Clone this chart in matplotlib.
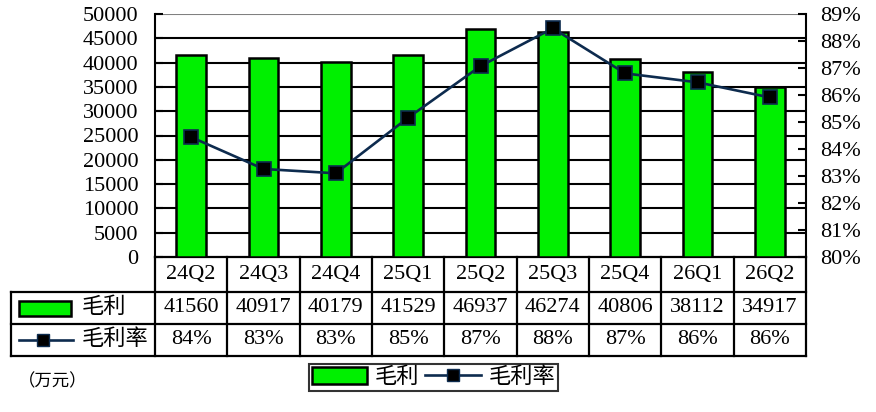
import matplotlib
matplotlib.use('Agg')
import matplotlib.pyplot as plt
import matplotlib.transforms as mtransforms
from matplotlib.patches import Rectangle, Patch
from matplotlib.lines import Line2D

plt.rcParams['font.family'] = ['Liberation Serif', 'Noto Sans CJK SC']

quarters = ['24Q2', '24Q3', '24Q4', '25Q1', '25Q2', '25Q3', '25Q4', '26Q1', '26Q2']
gross_profit = [41560, 40917, 40179, 41529, 46937, 46274, 40806, 38112, 34917]
gross_margin = [84.44, 83.26, 83.10, 85.16, 87.07, 88.47, 86.80, 86.47, 85.91]
margin_labels = ['84%', '83%', '83%', '85%', '87%', '88%', '87%', '86%', '86%']

green = '#00f000'
navy = '#0d2b4e'
W, H = 876, 412
fs = 16

fig = plt.figure(figsize=(W / 100, H / 100), dpi=100)
ax = fig.add_axes([155 / W, 1 - 257 / H, 651 / W, 243 / H])
x = list(range(len(quarters)))

# bars + grid
ax.bar(x, gross_profit, width=0.41, color=green, edgecolor='black', linewidth=1.8, zorder=3)
ax.set_xlim(-0.5, len(quarters) - 0.5)
ax.set_ylim(0, 50000)
ax.set_yticks(range(0, 50001, 5000))
for v in range(5000, 50000, 5000):
    ax.axhline(v, color='black', lw=1.5, zorder=1)
ax.axhline(50000, color='#808080', lw=1.5, zorder=1)
ax.set_xticks([])
ax.tick_params(axis='y', direction='in', length=6, width=1.5, labelsize=fs, pad=12)
for s in ['top', 'right', 'bottom']:
    ax.spines[s].set_visible(False)
ax.spines['left'].set_linewidth(1.5)

# margin line on right axis
ax2 = ax.twinx()
ax2.plot(x, gross_margin, color=navy, lw=1.9, marker='s', ms=9.5,
         mfc='black', mec=navy, mew=1.2, zorder=5)
ax2.set_ylim(80, 89)
ax2.set_yticks(range(80, 90))
ax2.set_yticklabels([f'{v}%' for v in range(80, 90)])
ax2.tick_params(axis='y', direction='in', length=6, width=1.5, labelsize=fs, pad=10)
for s in ['top', 'left', 'bottom']:
    ax2.spines[s].set_visible(False)
ax2.spines['right'].set_linewidth(1.5)

# data table under the chart
trans = mtransforms.blended_transform_factory(ax.transData, ax.transAxes)
r0, r1, r2, r3 = 0, (257 - 291.5) / 243, (257 - 323.5) / 243, (257 - 356) / 243
xl = -0.5 - (155 - 11) / 72.33
xr = len(quarters) - 0.5
lk = dict(color='black', lw=1.6, transform=trans, clip_on=False)
ax.plot([-0.5, xr], [r0, r0], **lk)
for yy in (r1, r2, r3):
    ax.plot([xl, xr], [yy, yy], **lk)
ax.plot([xl, xl], [r1, r3], **lk)
for i in range(len(quarters) + 1):
    ax.plot([i - 0.5, i - 0.5], [r0, r3], **lk)

for i, q in enumerate(quarters):
    ax.text(i, (r0 + r1) / 2, q, transform=trans, ha='center', va='center', fontsize=fs)
    ax.text(i, (r1 + r2) / 2, str(gross_profit[i]), transform=trans, ha='center', va='center', fontsize=fs)
    ax.text(i, (r2 + r3) / 2, margin_labels[i], transform=trans, ha='center', va='center', fontsize=fs)

def px2x(p):
    return -0.5 - (155 - p) / 72.33

ax.add_patch(Rectangle((px2x(19), (257 - 316) / 243), px2x(71) - px2x(19), 15 / 243,
                       facecolor=green, edgecolor='black', lw=1.8, transform=trans, clip_on=False))
ax.text(px2x(82), (r1 + r2) / 2, '毛利', transform=trans, ha='left', va='center', fontsize=fs)
ax.plot([px2x(19), px2x(73)], [(r2 + r3) / 2] * 2, color=navy, lw=1.9, transform=trans, clip_on=False)
ax.plot([px2x(43)], [(r2 + r3) / 2], marker='s', ms=8.5, mfc='black', mec=navy,
        transform=trans, clip_on=False)
ax.text(px2x(82), (r2 + r3) / 2, '毛利率', transform=trans, ha='left', va='center', fontsize=fs)

# bottom legend
handles = [Patch(facecolor=green, edgecolor='black', lw=1.8),
           Line2D([], [], color=navy, lw=1.9, marker='s', ms=9, mfc='black', mec=navy)]
leg = fig.legend(handles, ['毛利', '毛利率'], ncol=2, loc='center',
                 bbox_to_anchor=(433.5 / W, 1 - 377.5 / H), fontsize=fs,
                 frameon=True, fancybox=False, edgecolor='black', borderpad=0.12,
                 handlelength=2.5, handleheight=0.85, handletextpad=0.35, columnspacing=0.25)
leg.get_frame().set_linewidth(1.5)

fig.text(18 / W, 1 - 382 / H, '（万元）', fontsize=12.5, ha='left', va='center')

fig.savefig('out.png', dpi=100)
